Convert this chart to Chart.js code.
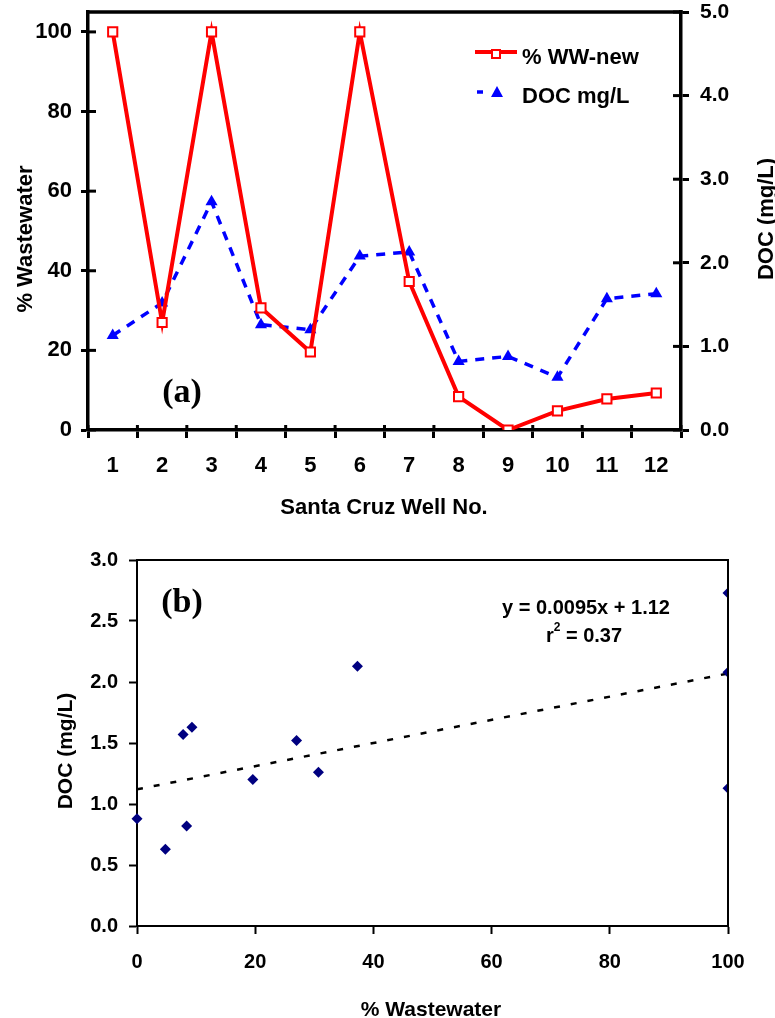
<!DOCTYPE html>
<html><head><meta charset="utf-8">
<script src="https://cdn.jsdelivr.net/npm/chart.js@4.4.1/dist/chart.umd.min.js"></script>
<style>
html,body{margin:0;padding:0;background:#fff;}
#wrap{position:relative;width:775px;height:1018px;overflow:hidden;}
#c1{position:absolute;left:0;top:0;}
#c2{position:absolute;left:0;top:520px;}
</style></head><body>
<div id="wrap">
<canvas id="c1" width="775" height="520"></canvas>
<canvas id="c2" width="775" height="498"></canvas>
</div>
<script>
// ---- data ----
const wells = ['1','2','3','4','5','6','7','8','9','10','11','12'];
const pctWW = [100, 27, 100, 30.7, 19.6, 100, 37.3, 8.4, 0, 4.8, 7.8, 9.3];
const docMgL = [1.13, 1.52, 2.73, 1.26, 1.20, 2.08, 2.13, 0.82, 0.88, 0.63, 1.57, 1.63];
const trendX = [0, 100];
const trendY = [1.12, 2.07];
const seriesNames = ['% WW-new', 'DOC mg/L'];
const equationText = ['y = 0.0095x + 1.12', 'r', '2', ' = 0.37'];

const FONT = '"Liberation Sans", Arial, Helvetica, sans-serif';
const SERIF = '"Liberation Serif", "Times New Roman", serif';

function rotText(ctx, text, x, y, size) {
  ctx.save();
  ctx.translate(x, y);
  ctx.rotate(-Math.PI / 2);
  ctx.font = 'bold ' + size + 'px ' + FONT;
  ctx.textAlign = 'center';
  ctx.textBaseline = 'alphabetic';
  ctx.fillStyle = '#000';
  ctx.fillText(text, 0, 0);
  ctx.restore();
}
function hText(ctx, text, x, y, font, align) {
  ctx.save();
  ctx.font = font;
  ctx.textAlign = align || 'center';
  ctx.textBaseline = 'alphabetic';
  ctx.fillStyle = '#000';
  ctx.fillText(text, x, y);
  ctx.restore();
}
function noPad(s) { s.paddingTop = 0; s.paddingBottom = 0; s.paddingLeft = 0; s.paddingRight = 0; }

// ---------------- chart (a) ----------------
const decorA = {
  id: 'decorA',
  afterDraw(chart) {
    const ctx = chart.ctx, a = chart.chartArea;
    ctx.save();
    ctx.strokeStyle = '#000';
    ctx.lineWidth = 3.5;
    ctx.beginPath();
    ctx.moveTo(a.left - 1.75, a.top);
    ctx.lineTo(a.right + 1.75, a.top);
    ctx.stroke();
    // inner tick extensions (ticks cross the axes)
    ctx.lineWidth = 3;
    const yL = chart.scales.y, yR = chart.scales.y1, x = chart.scales.x;
    yL.ticks.forEach(t => { const p = yL.getPixelForValue(t.value); ctx.beginPath(); ctx.moveTo(a.left, p); ctx.lineTo(a.left + 8, p); ctx.stroke(); });
    yR.ticks.forEach(t => { const p = yR.getPixelForValue(t.value); ctx.beginPath(); ctx.moveTo(a.right, p); ctx.lineTo(a.right - 8, p); ctx.stroke(); });
    for (let i = 0; i <= wells.length; i++) {
      const p = x.getPixelForValue(i - 0.5);
      ctx.beginPath(); ctx.moveTo(p, a.bottom); ctx.lineTo(p, a.bottom - 5); ctx.stroke();
    }
    // legend
    ctx.lineWidth = 4;
    ctx.strokeStyle = '#FF0000';
    ctx.beginPath(); ctx.moveTo(475, 52); ctx.lineTo(517, 52); ctx.stroke();
    ctx.fillStyle = '#fff';
    ctx.lineWidth = 2;
    ctx.fillRect(492, 50, 8, 8);
    ctx.strokeRect(492, 50, 8, 8);
    ctx.strokeStyle = '#0000FF';
    ctx.lineWidth = 3.5;
    ctx.beginPath(); ctx.moveTo(477, 92); ctx.lineTo(483, 92); ctx.stroke();
    ctx.fillStyle = '#0000FF';
    ctx.beginPath(); ctx.moveTo(497, 86); ctx.lineTo(503, 97); ctx.lineTo(491, 97); ctx.closePath(); ctx.fill();
    ctx.restore();
    hText(ctx, seriesNames[0], 522, 64, 'bold 22px ' + FONT, 'left');
    hText(ctx, seriesNames[1], 522, 103, 'bold 22px ' + FONT, 'left');
    // axis titles
    rotText(ctx, '% Wastewater', 32, 239, 22);
    rotText(ctx, 'DOC (mg/L)', 773, 219, 22);
    hText(ctx, 'Santa Cruz Well No.', 384, 514, 'bold 22px ' + FONT);
    hText(ctx, '(a)', 182, 402, 'bold 34px ' + SERIF);
  }
};

new Chart(document.getElementById('c1'), {
  type: 'line',
  data: {
    labels: wells,
    datasets: [
      {
        label: seriesNames[0], data: pctWW, yAxisID: 'y',
        borderColor: '#FF0000', borderWidth: 4, tension: 0,
        pointStyle: 'rect', pointRadius: 6.5, pointBorderWidth: 2,
        pointBorderColor: '#FF0000', pointBackgroundColor: '#FFFFFF'
      },
      {
        label: seriesNames[1], data: docMgL, yAxisID: 'y1',
        borderColor: '#0000FF', borderWidth: 3.5, borderDash: [9, 8], tension: 0,
        pointStyle: 'triangle', pointRadius: 7, pointBorderWidth: 0,
        pointBorderColor: '#0000FF', pointBackgroundColor: '#0000FF'
      }
    ]
  },
  options: {
    responsive: false, animation: false, devicePixelRatio: 1,
    layout: { padding: { top: 12, left: 0, right: 0, bottom: 0 } },
    plugins: { legend: { display: false }, tooltip: { enabled: false } },
    scales: {
      x: {
        type: 'category', offset: true,
        grid: { offset: true, drawOnChartArea: false, drawTicks: true, tickLength: 8, tickWidth: 3, tickColor: '#000' },
        border: { display: true, color: '#000', width: 3.5 },
        ticks: { color: '#000', padding: 15, font: { family: FONT, size: 22, weight: 'bold' }, maxRotation: 0, autoSkip: false },
        afterFit(s) { s.height = 90; noPad(s); }
      },
      y: {
        position: 'left', min: 0, max: 105,
        grid: { drawOnChartArea: false, tickLength: 7, tickWidth: 3, tickColor: '#000' },
        border: { display: true, color: '#000', width: 3.5 },
        ticks: { stepSize: 20, includeBounds: false, color: '#000', padding: 9, font: { family: FONT, size: 22, weight: 'bold' } },
        afterFit(s) { s.width = 88; noPad(s); }
      },
      y1: {
        position: 'right', min: 0, max: 5,
        grid: { drawOnChartArea: false, tickLength: 8, tickWidth: 3, tickColor: '#000' },
        border: { display: true, color: '#000', width: 3.5 },
        ticks: { stepSize: 1, color: '#000', padding: 11, font: { family: FONT, size: 21, weight: 'bold' }, callback: v => Number(v).toFixed(1) },
        afterFit(s) { s.width = 94; noPad(s); }
      }
    }
  },
  plugins: [decorA]
});

// ---------------- chart (b) ----------------
const decorB = {
  id: 'decorB',
  afterDraw(chart) {
    const ctx = chart.ctx, a = chart.chartArea;
    ctx.save();
    ctx.strokeStyle = '#000';
    ctx.lineWidth = 2;
    ctx.beginPath();
    ctx.moveTo(a.left - 1, a.top);
    ctx.lineTo(a.right, a.top);
    ctx.lineTo(a.right, a.bottom + 1);
    ctx.stroke();
    ctx.restore();
    rotText(ctx, 'DOC (mg/L)', 72, 231, 21);
    hText(ctx, '% Wastewater', 431, 496, 'bold 21px ' + FONT);
    hText(ctx, '(b)', 182, 92, 'bold 34px ' + SERIF);
    // regression equation
    const f = 'bold 20px ' + FONT;
    hText(ctx, equationText[0], 586, 94, f);
    ctx.save();
    ctx.font = f;
    const w1 = ctx.measureText(equationText[1]).width;
    const w3 = ctx.measureText(equationText[3]).width;
    ctx.font = 'bold 12px ' + FONT;
    const w2 = ctx.measureText(equationText[2]).width;
    ctx.restore();
    const tot = w1 + w2 + w3;
    let x0 = 584 - tot / 2;
    hText(ctx, equationText[1], x0, 122, f, 'left');
    hText(ctx, equationText[2], x0 + w1, 111, 'bold 12px ' + FONT, 'left');
    hText(ctx, equationText[3], x0 + w1 + w2, 122, f, 'left');
  }
};

new Chart(document.getElementById('c2'), {
  type: 'scatter',
  data: {
    datasets: [
      {
        label: 'DOC vs % Wastewater',
        data: pctWW.map((v, i) => ({ x: v, y: docMgL[i] })),
        pointStyle: 'rectRot', pointRadius: 5.5, pointBorderWidth: 0,
        pointBackgroundColor: '#000080', pointBorderColor: '#000080',
        clip: { left: 10, top: 10, right: 0, bottom: 10 }
      },
      {
        type: 'line', label: 'Linear fit',
        data: trendX.map((v, i) => ({ x: v, y: trendY[i] })),
        borderColor: '#000', borderWidth: 2.5, borderDash: [6, 11],
        pointRadius: 0, showLine: true, fill: false
      }
    ]
  },
  options: {
    responsive: false, animation: false, devicePixelRatio: 1,
    layout: { padding: { top: 40, left: 0, right: 47, bottom: 0 } },
    plugins: { legend: { display: false }, tooltip: { enabled: false } },
    scales: {
      x: {
        type: 'linear', min: 0, max: 100,
        grid: { drawOnChartArea: false, tickLength: 8, tickWidth: 2, tickColor: '#000' },
        border: { display: true, color: '#000', width: 2 },
        ticks: { stepSize: 20, color: '#000', padding: 16, font: { family: FONT, size: 20, weight: 'bold' }, maxRotation: 0 },
        afterFit(s) { s.height = 92; noPad(s); }
      },
      y: {
        type: 'linear', min: 0, max: 3,
        grid: { drawOnChartArea: false, tickLength: 8, tickWidth: 2, tickColor: '#000' },
        border: { display: true, color: '#000', width: 2 },
        ticks: { stepSize: 0.5, color: '#000', padding: 11, font: { family: FONT, size: 20, weight: 'bold' }, callback: v => Number(v).toFixed(1) },
        afterFit(s) { s.width = 137; noPad(s); }
      }
    }
  },
  plugins: [decorB]
});
</script>
</body></html>
